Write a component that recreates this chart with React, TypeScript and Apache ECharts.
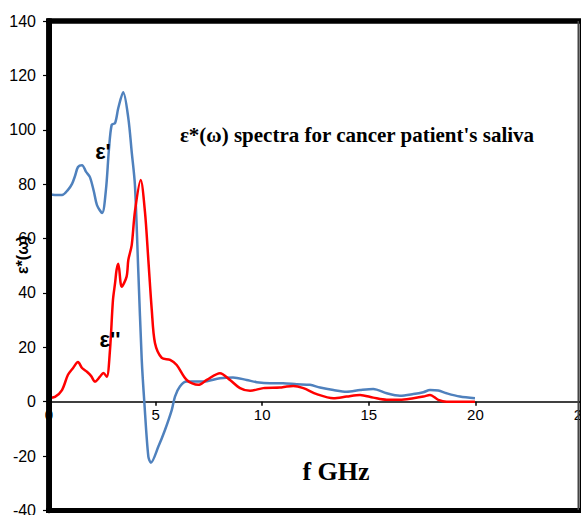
import React, { useEffect, useRef } from "react";
import * as echarts from "echarts";

// ε' (real part) — frequency (GHz) and value
const freqReal = [0, 0.28, 0.61, 0.89, 1.08, 1.22, 1.36, 1.55, 1.74, 1.92, 2.11, 2.25, 2.49, 2.67, 2.81, 2.94, 3.1, 3.25, 3.48, 3.72, 3.88, 4.03, 4.19, 4.35, 4.47, 4.66, 4.78, 5.13, 5.44, 5.76, 5.91, 6.14, 6.46, 7.22, 8.02, 8.63, 9.27, 9.74, 10.37, 10.98, 11.62, 12.24, 12.71, 13.34, 13.96, 14.59, 15.21, 15.84, 16.46, 17.09, 17.56, 17.87, 18.26, 18.65, 19.27, 19.98];
const epsReal = [76.4, 76, 76, 77.9, 80.1, 83, 86.3, 87, 84.5, 82.6, 77.1, 72.3, 69.4, 77.9, 92.6, 101.8, 102.5, 108, 113.8, 104.3, 91.8, 79.7, 47.7, 15.4, 0, -20.2, -22.4, -16.5, -10.4, -3, 1.9, 5.6, 7.4, 7.4, 8.6, 8.9, 8, 7.2, 6.8, 6.8, 6.4, 6.2, 5.2, 4.3, 3.7, 4.3, 4.7, 3.1, 2.2, 2.8, 3.5, 4.3, 4.1, 3.1, 1.9, 1.3];

// ε'' (imaginary part)
const freqImag = [0, 0.28, 0.61, 0.89, 1.13, 1.36, 1.55, 1.78, 1.97, 2.16, 2.39, 2.55, 2.71, 2.86, 3.0, 3.1, 3.17, 3.25, 3.41, 3.64, 3.72, 3.88, 4.03, 4.3, 4.5, 4.66, 4.82, 4.97, 5.29, 5.68, 5.99, 6.46, 7.0, 7.4, 8.02, 8.49, 8.96, 9.43, 10.05, 10.83, 11.15, 11.46, 11.93, 12.56, 13.34, 13.96, 14.59, 15.21, 15.84, 16.46, 17.09, 17.56, 17.87, 18.26, 18.65, 19.27, 19.98];
const epsImag = [1.4, 1.8, 4.3, 9.9, 12.4, 14.6, 12.4, 11, 9.5, 7.4, 9.2, 10.6, 9.2, 19, 37.4, 43.7, 48.5, 50.7, 42.3, 46, 52.1, 57.6, 69.9, 81.5, 69.9, 52.1, 33.8, 21.6, 16.1, 15.4, 13.5, 8, 6.2, 8, 10.5, 8, 5, 4, 5, 5.2, 5.6, 5.8, 5, 2.8, 1.3, 1.9, 2.5, 1.5, 0.7, 0.7, 1.3, 1.9, 2.5, 0.7, 0, 0, 0];

const xTicks = { min: 0, max: 25, interval: 5 };
const yTicks = { min: -40, max: 140, interval: 20 };

const titleText = "ε*(ω) spectra for cancer patient's saliva";
const xName = "f GHz";
const yName = "ε*(ω)";
const realLabel = "ε'";
const imagLabel = "ε''";

function makeOption() {
  const sans = "Liberation Sans";
  const serif = "Liberation Serif";
  const gridTop = 21;
  const gridBottom = 4.5;
  const plotH = 515 - gridTop - gridBottom;
  // move the x axis up onto the y = 0 line
  const zeroOffset = -((0 - yTicks.min) / (yTicks.max - yTicks.min)) * plotH;
  const mk = (text: string, x: number, y: number, size: number, fam: string, rot?: number) => {
    const el: any = {
      type: "text",
      x,
      y,
      z: 20,
      style: {
        text,
        fontSize: size,
        fontWeight: "bold",
        fontFamily: fam,
        fill: "#000",
        align: "center",
        verticalAlign: "middle",
      },
    };
    if (rot) el.rotation = rot;
    return el;
  };
  return {
    animation: false,
    grid: {
      left: 49,
      top: gridTop,
      right: -1,
      bottom: gridBottom,
      outerBoundsMode: "none",
      show: true,
      borderColor: "#000000",
      borderWidth: 5,
      backgroundColor: "transparent",
    },
    xAxis: [
      {
        type: "value",
        min: xTicks.min,
        max: xTicks.max,
        interval: xTicks.interval,
        position: "bottom",
        offset: zeroOffset,
        axisLine: { show: true, onZero: false, lineStyle: { color: "#000000", width: 1.5 } },
        axisTick: { show: true, inside: false, length: 4, lineStyle: { color: "#000000", width: 1.5 } },
        axisLabel: { color: "#000000", fontSize: 15, fontFamily: sans, margin: 5 },
        splitLine: { show: false },
      },
    ],
    yAxis: {
      type: "value",
      min: yTicks.min,
      max: yTicks.max,
      interval: yTicks.interval,
      axisLine: { show: true, onZero: false, lineStyle: { color: "#000000", width: 5.5 } },
      axisTick: { show: true, inside: false, length: 6, lineStyle: { color: "#000000", width: 1.2 } },
      axisLabel: { color: "#000000", fontSize: 16, fontFamily: sans, margin: 13 },
      splitLine: { show: false },
    },
    series: [
      {
        type: "line",
        data: freqReal.map((f, i) => [f, epsReal[i]]),
        smooth: 0.3,
        showSymbol: false,
        lineStyle: { color: "#4F81BD", width: 2.5 },
      },
      {
        type: "line",
        data: freqImag.map((f, i) => [f, epsImag[i]]),
        smooth: 0.3,
        showSymbol: false,
        lineStyle: { color: "#FF0000", width: 2.5 },
      },
    ],
    graphic: [
      { type: "rect", shape: { x: 46, y: 18.5, width: 535, height: 5 }, style: { fill: "#000000" }, z: 10 },
      { type: "rect", shape: { x: 46, y: 508, width: 535, height: 5 }, style: { fill: "#000000" }, z: 10 },
      { type: "rect", shape: { x: 46.5, y: 18.5, width: 5.5, height: 494 }, style: { fill: "#000000" }, z: 10 },
      { type: "rect", shape: { x: 577.5, y: 21, width: 1.5, height: 489 }, style: { fill: "#444444" }, z: 10 },
      mk(titleText, 357, 135, 21, serif),
      mk(xName, 336, 471, 26, serif),
      mk(yName, 22, 255, 16, sans, Math.PI / 2),
      mk(realLabel, 103, 151, 22, sans),
      mk(imagLabel, 110, 339, 22, sans),
    ],
  };
}

export default function App() {
  const ref = useRef<HTMLDivElement>(null);
  useEffect(() => {
    if (!ref.current) return;
    const chart = echarts.init(ref.current, null, { renderer: "svg" });
    chart.setOption(makeOption() as any);
    return () => chart.dispose();
  }, []);
  return (
    <div style={{ position: "absolute", left: 0, top: 0, width: 581, height: 515, overflow: "hidden" }}>
      <div ref={ref} style={{ width: 581, height: 515 }} />
    </div>
  );
}
